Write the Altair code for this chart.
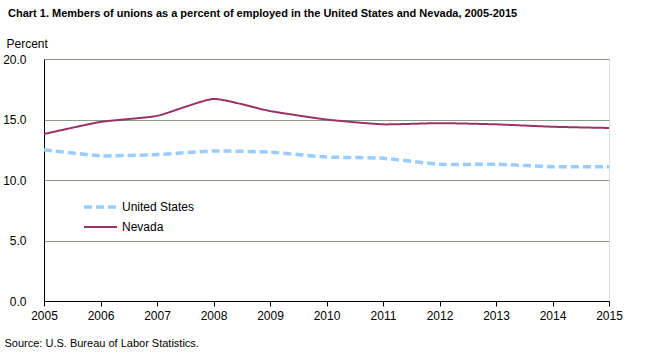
import altair as alt
import pandas as pd

years = [2005, 2006, 2007, 2008, 2009, 2010, 2011, 2012, 2013, 2014, 2015]
united_states = [12.5, 12.0, 12.1, 12.4, 12.3, 11.9, 11.8, 11.3, 11.3, 11.1, 11.1]
nevada = [13.8, 14.8, 15.3, 16.7, 15.7, 15.0, 14.6, 14.7, 14.6, 14.4, 14.3]
series_names = ["United States", "Nevada"]
y_ticks = [0, 5, 10, 15, 20]

rows = []
for name, vals in zip(series_names, [united_states, nevada]):
    for yr, v in zip(years, vals):
        rows.append({"year": yr, "value": v, "series": name})
df = pd.DataFrame(rows)

FONT = "Liberation Sans, Arial"


def make_legend():
    return alt.Legend(title=None, orient="none", legendX=38, legendY=138,
                      symbolType="stroke", symbolSize=1089, clipHeight=20,
                      labelFontSize=12, labelFont=FONT, labelColor="black",
                      labelOffset=3, rowPadding=0)


line = alt.Chart(df).mark_line(interpolate="cardinal", tension=0.5).encode(
    x=alt.X("year:Q",
            scale=alt.Scale(domain=[2005, 2015], nice=False, zero=False),
            axis=alt.Axis(values=years, format="d", grid=False, ticks=True, tickSize=5,
                          tickWidth=1, tickColor="black", domainColor="black", labelPadding=4,
                          labelFlush=False, labelOverlap=False,
                          labelFontSize=12, labelColor="black", labelFont=FONT,
                          title="Source: U.S. Bureau of Labor Statistics.",
                          titleFontSize=11, titleFontWeight="normal", titleFont=FONT,
                          titleColor="black", titleAnchor="start", titleAlign="left",
                          titleX=-40, titleY=42, titleBaseline="middle")),
    y=alt.Y("value:Q",
            scale=alt.Scale(domain=[0, 20], nice=False),
            axis=alt.Axis(values=y_ticks, format=".1f", ticks=False, grid=True,
                          gridColor="#8c9a88", domainColor="black", labelPadding=18,
                          labelFontSize=12, labelColor="black", labelFont=FONT,
                          title="Percent", titleAngle=0, titleAlign="left",
                          titleBaseline="middle", titleX=-38, titleY=-16,
                          titleFontSize=12, titleFontWeight="normal", titleFont=FONT,
                          titleColor="black")),
    color=alt.Color("series:N",
                    scale=alt.Scale(domain=series_names, range=["#99ccff", "#993366"]),
                    legend=make_legend()),
    strokeDash=alt.StrokeDash("series:N",
                              scale=alt.Scale(domain=series_names, range=[[8, 4], [1, 0]]),
                              legend=make_legend()),
    strokeWidth=alt.StrokeWidth("series:N",
                                scale=alt.Scale(domain=series_names, range=[3.5, 2]),
                                legend=make_legend()),
)

chart = line.properties(
    width=565,
    height=242,
    title=alt.TitleParams(
        "Chart 1. Members of unions as a percent of employed in the United  States and Nevada, 2005-2015",
        anchor="start", frame="group", dx=-36, offset=18,
        fontSize=11, fontWeight="bold", font=FONT, color="black"),
    autosize=alt.AutoSizeParams(type="none"),
    padding={"left": 44, "top": 59, "right": 41, "bottom": 52},
).configure_view(stroke="#8fa58c", strokeWidth=1).configure(background="white")

chart.save("out.html", embed_options={"renderer": "svg", "actions": False})
